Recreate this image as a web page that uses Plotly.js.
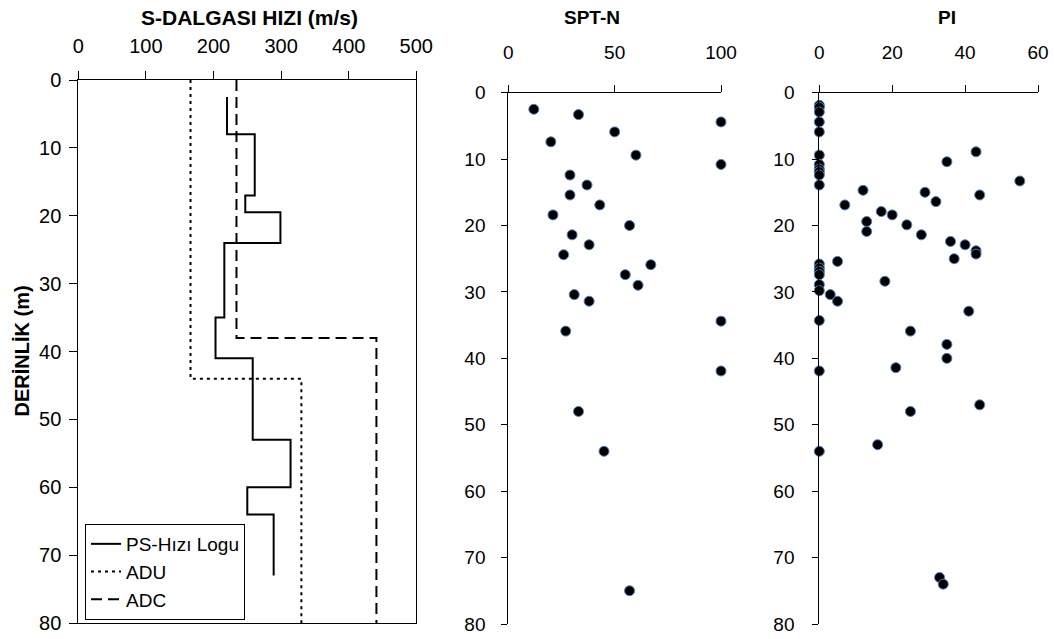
<!DOCTYPE html>
<html>
<head>
<meta charset="utf-8">
<script src="https://cdn.plot.ly/plotly-3.0.1.min.js"></script>
<style>html,body{margin:0;padding:0;background:#fff;}#chart{width:1054px;height:639px;}</style>
</head>
<body>
<div id="chart"></div>
<script>
// ---- Data ----
// PS velocity log: layer boundaries (m) and Vs per layer (m/s)
const psDepth = [2.5, 8, 17, 19.5, 24, 35, 41, 53, 60, 64, 73];
const psVs    = [220, 261, 247, 299, 216, 203, 258, 314, 250, 289];
// ADU profile
const aduDepth = [0, 44, 80];
const aduVs    = [166, 330];
// ADC profile
const adcDepth = [0, 38, 80];
const adcVs    = [234, 441];

// SPT-N
const sptDepth = [2.5, 3.3, 4.4, 5.9, 7.4, 9.4, 10.8, 12.4, 13.9, 15.4, 16.9, 18.4, 20.0, 21.4, 22.9, 24.4, 25.9, 27.4, 29.0, 30.4, 31.4, 34.4, 35.9, 41.9, 48.0, 54.0, 75.0];
const sptN     = [12, 33, 100, 50, 20, 60, 100, 29, 37, 29, 43, 21, 57, 30, 38, 26, 67, 55, 61, 31, 38, 100, 27, 100, 33, 45, 57];

// PI
const piDepth = [1.9, 2.2, 2.9, 4.4, 5.9, 9.4, 10.8, 11.5, 11.9, 12.4, 13.9, 25.8, 26.4, 26.9, 27.4, 28.9, 29.8, 34.3, 41.9, 54.0,
                 8.9, 10.4, 13.3, 14.7, 15.0, 15.4, 16.4, 16.9, 17.9, 18.4, 19.4, 20.9, 19.9, 21.4, 22.4, 22.9, 23.8, 24.3, 25.0, 25.4,
                 28.4, 30.4, 31.4, 32.9, 35.9, 37.9, 40.0, 41.4, 47.0, 48.0, 53.0, 73.0, 74.0];
const piVal   = [0, 0, 0, 0, 0, 0, 0, 0, 0, 0, 0, 0, 0, 0, 0, 0, 0, 0, 0, 0,
                 43, 35, 55, 12, 29, 44, 32, 7, 17, 20, 13, 13, 24, 28, 36, 40, 43, 43, 37, 5,
                 18, 3, 5, 41, 25, 35, 35, 21, 44, 25, 16, 33, 34];

const velTickVals = [0, 100, 200, 300, 400, 500];
const depthTickVals = [0, 10, 20, 30, 40, 50, 60, 70, 80];

// ---- Build step paths from layers ----
function steps(depths, vals) {
  const x = [], y = [];
  for (let i = 0; i < vals.length; i++) {
    x.push(vals[i], vals[i]);
    y.push(depths[i], depths[i + 1]);
  }
  return {x, y};
}
const ps = steps(psDepth, psVs);
const adu = steps(aduDepth, aduVs);
const adc = steps(adcDepth, adcVs);

const ARIAL = 'Liberation Sans, Arial, sans-serif';

const marker = {symbol: 'circle', size: 10, color: '#000', line: {color: '#4f81bd', width: 1}};

const traces = [
  {x: ps.x, y: ps.y, xaxis: 'x', yaxis: 'y', mode: 'lines', name: 'PS-Hızı Logu',
   line: {color: '#000', width: 2}},
  {x: adu.x, y: adu.y, xaxis: 'x', yaxis: 'y', mode: 'lines', name: 'ADU',
   line: {color: '#000', width: 2, dash: '3px,4px'}},
  {x: adc.x, y: adc.y, xaxis: 'x', yaxis: 'y', mode: 'lines', name: 'ADC',
   line: {color: '#000', width: 2, dash: '11px,6px'}},
  {x: sptN, y: sptDepth, xaxis: 'x2', yaxis: 'y2', mode: 'markers', showlegend: false,
   marker: marker, cliponaxis: false},
  {x: piVal, y: piDepth, xaxis: 'x3', yaxis: 'y3', mode: 'markers', showlegend: false,
   marker: marker, cliponaxis: false}
];

const baseAxis = {showgrid: false, zeroline: false, showline: true, linecolor: '#000', linewidth: 1,
  ticks: 'outside', tickcolor: '#000', tickwidth: 1, fixedrange: true};

const yDomL = [16 / 639, 559 / 639];
const yDomR = [15 / 639, 546.3 / 639];

const layout = {
  width: 1054, height: 639,
  margin: {l: 0, r: 0, t: 0, b: 0},
  paper_bgcolor: '#fff', plot_bgcolor: '#fff',
  showlegend: true,
  legend: {x: 85 / 1054, xanchor: 'left', y: 19 / 639, yanchor: 'bottom',
    bordercolor: '#000', borderwidth: 1, bgcolor: '#fff',
    font: {family: ARIAL, size: 19, color: '#000'}, itemwidth: 30, tracegroupgap: 0},
  xaxis: Object.assign({}, baseAxis, {domain: [78.3 / 1054, 416.3 / 1054], anchor: 'y', side: 'top',
    range: [0, 500], tickvals: velTickVals, ticklen: 8, mirror: true, ticklabelstandoff: 10,
    tickfont: {family: ARIAL, size: 20, color: '#000'}}),
  yaxis: Object.assign({}, baseAxis, {domain: yDomL, anchor: 'x', range: [80, 0],
    tickvals: depthTickVals, ticklen: 8, mirror: true, ticklabelstandoff: 4,
    tickfont: {family: ARIAL, size: 20, color: '#000'}}),
  xaxis2: Object.assign({}, baseAxis, {domain: [508.3 / 1054, 721 / 1054], anchor: 'y2', side: 'top',
    range: [0, 100], tickvals: [0, 50, 100], ticklen: 7, ticklabelstandoff: 18,
    tickfont: {family: ARIAL, size: 19, color: '#000'}}),
  yaxis2: Object.assign({}, baseAxis, {domain: yDomR, anchor: 'x2', range: [80, 0],
    tickvals: depthTickVals, ticklen: 6, ticklabelstandoff: 12,
    tickfont: {family: ARIAL, size: 19, color: '#000'}}),
  xaxis3: Object.assign({}, baseAxis, {domain: [819.3 / 1054, 1038 / 1054], anchor: 'y3', side: 'top',
    range: [0, 60], tickvals: [0, 20, 40, 60], ticklen: 7, ticklabelstandoff: 18,
    tickfont: {family: ARIAL, size: 19, color: '#000'}}),
  yaxis3: Object.assign({}, baseAxis, {domain: yDomR, anchor: 'x3', range: [80, 0],
    tickvals: depthTickVals, ticklen: 6, ticklabelstandoff: 14,
    tickfont: {family: ARIAL, size: 19, color: '#000'}}),
  annotations: [
    {text: '<b>S-DALGASI HIZI (m/s)</b>', xref: 'paper', yref: 'paper', x: 249 / 1054, y: 622 / 639,
     xanchor: 'center', yanchor: 'middle', showarrow: false, font: {family: ARIAL, size: 21, color: '#000'}},
    {text: '<b>SPT-N</b>', xref: 'paper', yref: 'paper', x: 591.7 / 1054, y: 622 / 639,
     xanchor: 'center', yanchor: 'middle', showarrow: false, font: {family: ARIAL, size: 19, color: '#000'}},
    {text: '<b>PI</b>', xref: 'paper', yref: 'paper', x: 946.7 / 1054, y: 622 / 639,
     xanchor: 'center', yanchor: 'middle', showarrow: false, font: {family: ARIAL, size: 19, color: '#000'}},
    {text: '<b>DERİNLİK (m)</b>', xref: 'paper', yref: 'paper', x: 21.5 / 1054, y: 288 / 639,
     xanchor: 'center', yanchor: 'middle', textangle: -90, showarrow: false,
     font: {family: ARIAL, size: 20, color: '#000'}}
  ]
};

Plotly.newPlot('chart', traces, layout, {displayModeBar: false, staticPlot: true});
</script>
</body>
</html>
